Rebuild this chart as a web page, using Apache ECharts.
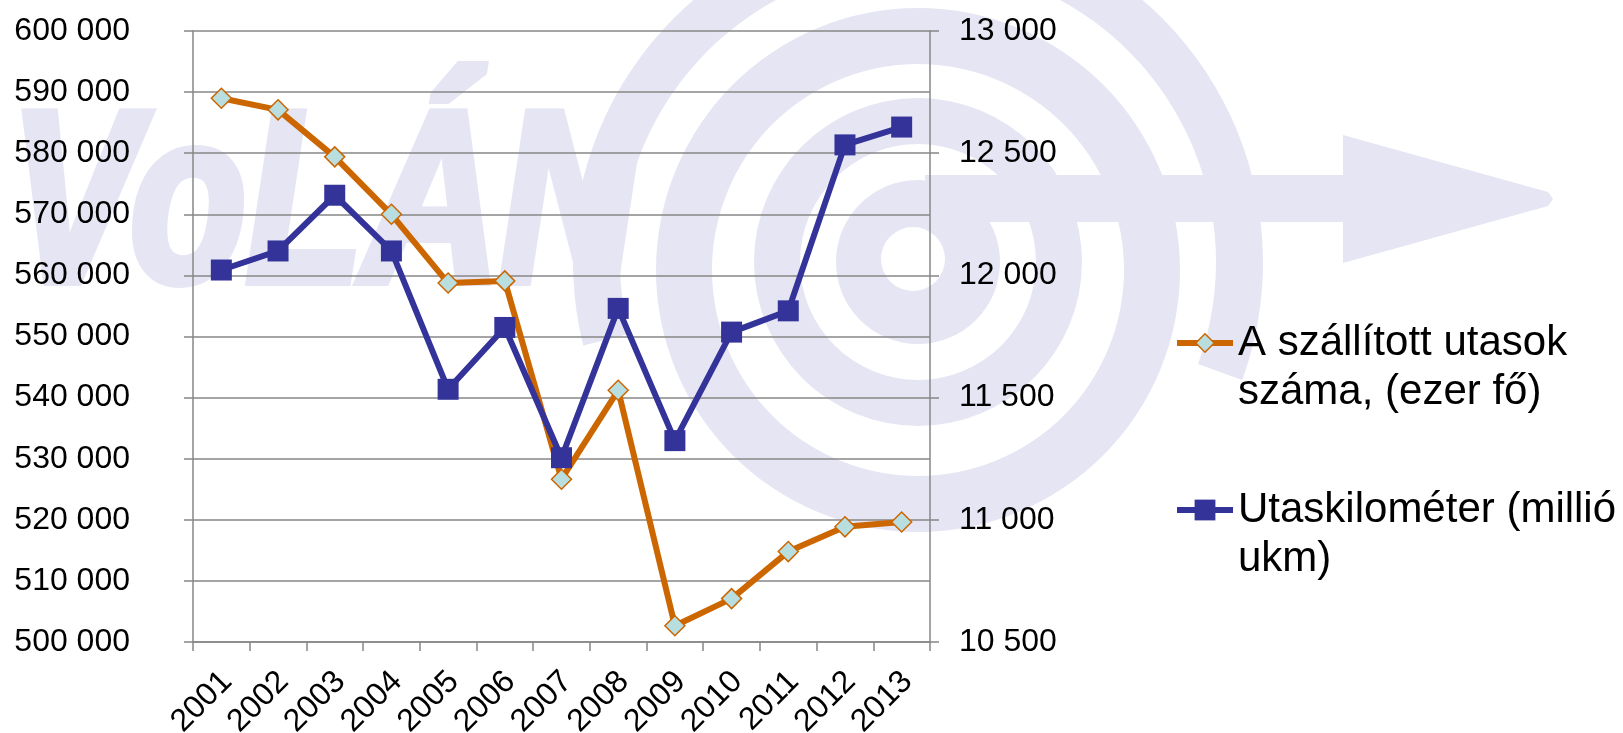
<!DOCTYPE html>
<html>
<head>
<meta charset="utf-8">
<script src="https://cdn.jsdelivr.net/npm/echarts@6/dist/echarts.min.js"></script>
<style>
html,body{margin:0;padding:0;background:#fff;}
#chart{width:1623px;height:733px;}
</style>
</head>
<body>
<div id="chart"></div>
<script>
// ---- data ----
const years = ['2001','2002','2003','2004','2005','2006','2007','2008','2009','2010','2011','2012','2013'];
const passengers = [589000, 587100, 579400, 570000, 558750, 559100, 526650, 541200, 502650, 507100, 514800, 518850, 519650];
const passengerKm = [12022, 12100, 12328, 12100, 11534, 11787, 11254, 11865, 11324, 11768, 11855, 12534, 12607];
const seriesNames = ['A szállított utasok száma, (ezer fő)', 'Utaskilométer (millió ukm)'];
const legendLabels = ['A szállított utasok\nszáma, (ezer fő)', 'Utaskilométer (millió\nukm)'];
const leftAxisRange = [500000, 600000, 10000];
const rightAxisRange = [10500, 13000, 500];

const FONT = '"Liberation Sans", Arial, sans-serif';
const GRID_COLOR = '#878787';
const ORANGE = '#CC6600';
const BLUE = '#333399';
const CYAN = '#B8DEE0';
const WM = '#E5E5F4';

function spaced(v) {
  return String(v).replace(/\B(?=(\d{3})+(?!\d))/g, ' ');
}

const chart = echarts.init(document.getElementById('chart'), null, {renderer: 'canvas'});
const rad = Math.PI / 180;
const wmCx = 918, wmCy = 262;

const option = {
  animation: false,
  backgroundColor: '#ffffff',
  textStyle: {fontFamily: FONT},
  graphic: {
    elements: [
      {type: 'sector', z: -5, silent: true,
        shape: {cx: wmCx, cy: wmCy, r0: 298, r: 345, startAngle: -194 * rad, endAngle: 20 * rad, clockwise: true},
        style: {fill: WM}},
      {type: 'ring', z: -5, silent: true, shape: {cx: wmCx, cy: 270, r0: 206, r: 262}, style: {fill: WM}},
      {type: 'ring', z: -5, silent: true, shape: {cx: wmCx, cy: wmCy, r0: 118, r: 164}, style: {fill: WM}},
      {type: 'circle', z: -5, silent: true, shape: {cx: wmCx, cy: wmCy, r: 82}, style: {fill: WM}},
      {type: 'circle', z: -4, silent: true, shape: {cx: 913, cy: 259, r: 32}, style: {fill: '#ffffff'}},
      {type: 'rect', z: -4, silent: true, shape: {x: 925, y: 175, width: 425, height: 47}, style: {fill: WM}},
      {type: 'polygon', z: -4, silent: true,
        shape: {points: [[1343,135],[1548,192],[1553,199],[1548,206],[1343,263]]}, style: {fill: WM}},
      {type: 'text', z: -4, silent: true, x: 10, y: 214, scaleX: 0.78,
        style: {text: 'VoLÁN', font: 'italic bold 244px "Liberation Sans"', fill: WM,
          stroke: WM, lineWidth: 10, align: 'left', verticalAlign: 'middle'}}
    ]
  },
  grid: {left: 193, right: 693, top: 31, bottom: 91, containLabel: false, outerBoundsMode: 'none'},
  legend: [
    {
      data: [seriesNames[0]], orient: 'vertical', left: 1174, top: 269.5, padding: 0,
      itemWidth: 56, itemHeight: 23, selectedMode: false,
      formatter: () => '\n' + legendLabels[0],
      itemStyle: {color: CYAN, borderColor: ORANGE, borderWidth: 1.5},
      lineStyle: {color: ORANGE, width: 6},
      textStyle: {fontSize: 42, lineHeight: 49, color: '#000', fontFamily: FONT}
    },
    {
      data: [seriesNames[1]], orient: 'vertical', left: 1174, top: 436.5, padding: 0,
      itemWidth: 56, itemHeight: 26, selectedMode: false,
      formatter: () => '\n' + legendLabels[1],
      itemStyle: {color: BLUE, borderWidth: 0},
      lineStyle: {color: BLUE, width: 6},
      textStyle: {fontSize: 42, lineHeight: 49, color: '#000', fontFamily: FONT}
    }
  ],
  xAxis: {
    type: 'category',
    data: years,
    boundaryGap: true,
    axisLine: {show: true, lineStyle: {color: GRID_COLOR, width: 1.5}},
    axisTick: {show: true, length: 9, alignWithLabel: false, lineStyle: {color: GRID_COLOR, width: 1.5}},
    axisLabel: {interval: 0, rotate: 45, fontSize: 32, color: '#000', fontFamily: FONT,
      margin: 29, verticalAlign: 'top', lineHeight: 16},
    splitLine: {show: false}
  },
  yAxis: [
    {
      type: 'value', position: 'left',
      min: leftAxisRange[0], max: leftAxisRange[1], interval: leftAxisRange[2],
      axisLine: {show: true, lineStyle: {color: GRID_COLOR, width: 1.5}},
      axisTick: {show: true, length: 9, lineStyle: {color: GRID_COLOR, width: 1.5}},
      axisLabel: {fontSize: 32, color: '#000', fontFamily: FONT, margin: 63, formatter: spaced},
      splitLine: {show: true, lineStyle: {color: GRID_COLOR, width: 1.5}}
    },
    {
      type: 'value', position: 'right',
      min: rightAxisRange[0], max: rightAxisRange[1], interval: rightAxisRange[2],
      axisLine: {show: true, lineStyle: {color: GRID_COLOR, width: 1.5}},
      axisTick: {show: true, length: 9, lineStyle: {color: GRID_COLOR, width: 1.5}},
      axisLabel: {fontSize: 32, color: '#000', fontFamily: FONT, margin: 29, formatter: spaced},
      splitLine: {show: false}
    }
  ],
  series: [
    {
      name: seriesNames[0], type: 'line', yAxisIndex: 0, data: passengers,
      symbol: 'diamond', symbolSize: 20, showAllSymbol: true,
      lineStyle: {color: ORANGE, width: 6},
      itemStyle: {color: CYAN, borderColor: ORANGE, borderWidth: 1.5},
      emphasis: {disabled: true}, z: 3
    },
    {
      name: seriesNames[1], type: 'line', yAxisIndex: 1, data: passengerKm,
      symbol: 'rect', symbolSize: 21, showAllSymbol: true,
      lineStyle: {color: BLUE, width: 6},
      itemStyle: {color: BLUE, borderWidth: 0},
      emphasis: {disabled: true}, z: 4
    }
  ]
};
chart.setOption(option);
</script>
</body>
</html>
